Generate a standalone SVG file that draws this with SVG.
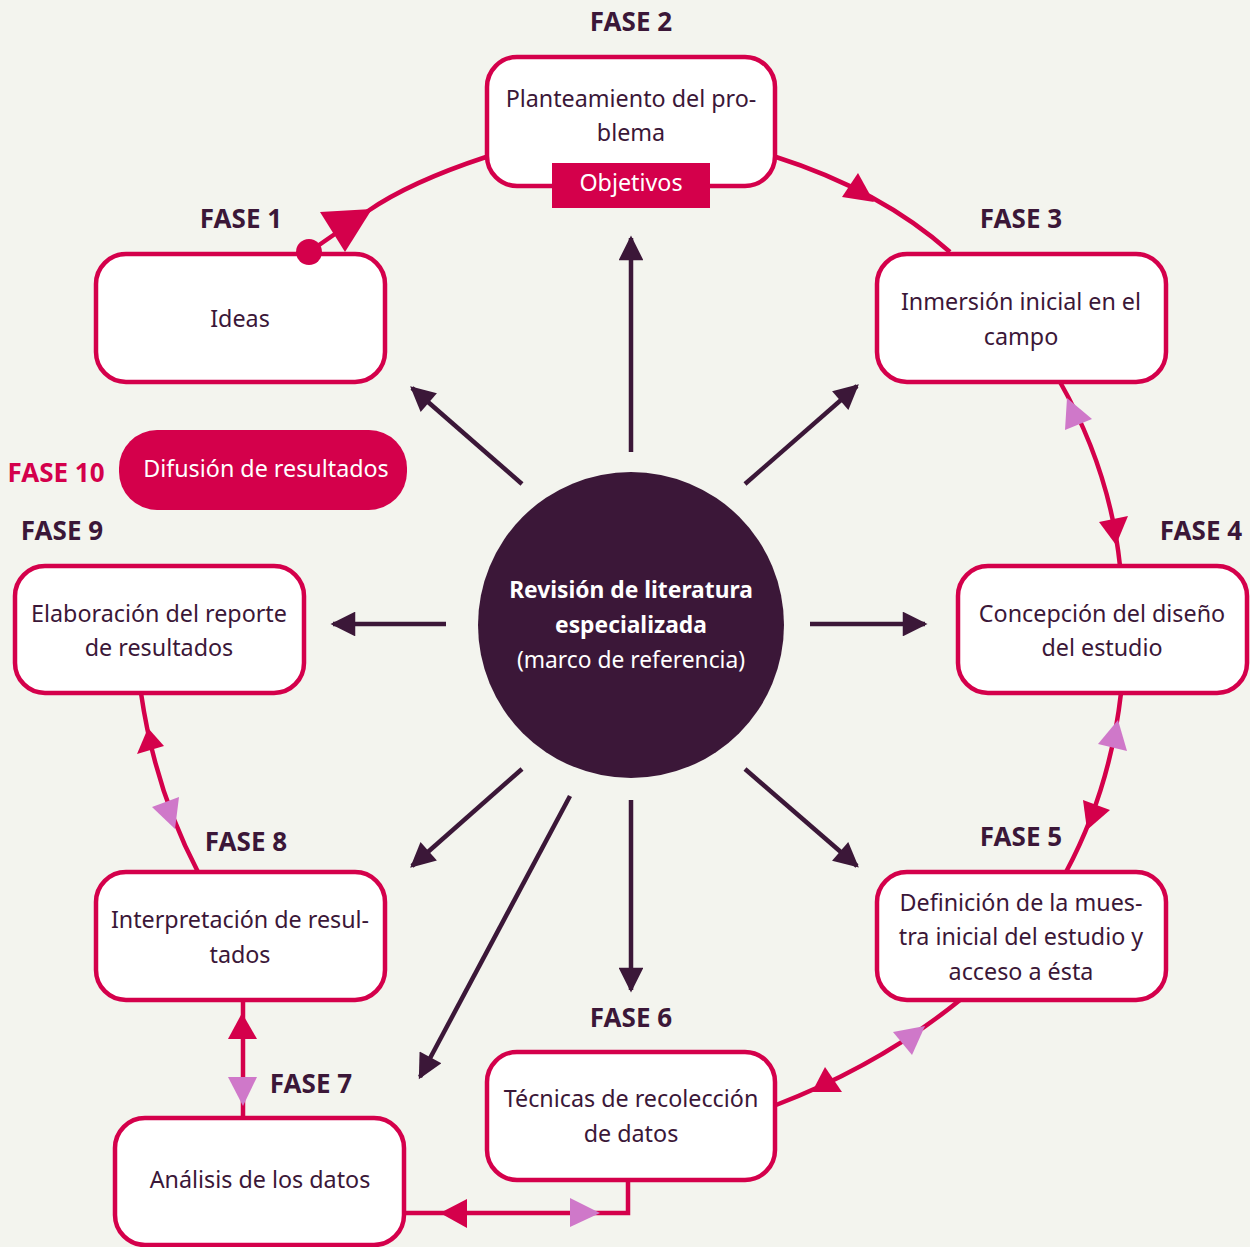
<svg xmlns="http://www.w3.org/2000/svg" width="1250" height="1247" viewBox="0 0 1250 1247">
<defs>
<style>
.bg{fill:#f3f4ee}
.box{fill:#fff;stroke:#d4004b;stroke-width:4.5}
.t{font-family:"Noto Sans","Open Sans",sans-serif;font-size:23.3px;fill:#3b1738;text-anchor:middle}
.c{font-size:22.8px}
.w{fill:#fff}
.lab{font-family:"Noto Sans","Open Sans",sans-serif;font-size:26px;font-weight:bold;fill:#3b1738;text-anchor:middle}
.cyc{fill:none;stroke:#d4004b;stroke-width:4.5}
.rad{fill:none;stroke:#3b1738;stroke-width:4.5}
.ar{fill:#d4004b}
.pk{fill:#cf78c9}
</style>
<marker id="ah" viewBox="0 0 10 10" refX="9" refY="5" markerWidth="6" markerHeight="5.5" markerUnits="strokeWidth" orient="auto">
<path d="M0,0 L10,5 L0,10 z" fill="#3b1738"/>
</marker>
</defs>
<rect class="bg" x="0" y="0" width="1250" height="1247"/>

<g id="center">
<circle cx="631" cy="625" r="153" fill="#3b1738"/>
<text class="t c w" x="631" y="598" font-weight="bold">Revisión de literatura</text>
<text class="t c w" x="631" y="633" font-weight="bold">especializada</text>
<text class="t c w" x="631" y="668">(marco de referencia)</text>
</g>

<g id="fase1">
<text class="lab" x="241" y="228">FASE 1</text>
<rect class="box" x="96" y="254" width="289" height="128" rx="30"/>
<text class="t" x="240" y="327">Ideas</text>
</g>

<g id="fase2">
<text class="lab" x="631" y="31">FASE 2</text>
<rect class="box" x="487" y="57" width="288" height="129" rx="30"/>
<text class="t" x="631" y="107">Planteamiento del pro-</text>
<text class="t" x="631" y="141">blema</text>
<rect x="552" y="163" width="158" height="45" fill="#d4004b"/>
<text class="t w" x="631" y="191">Objetivos</text>
</g>

<g id="fase3">
<text class="lab" x="1021" y="228">FASE 3</text>
<rect class="box" x="877" y="254" width="289" height="128" rx="30"/>
<text class="t" x="1021" y="310">Inmersión inicial en el</text>
<text class="t" x="1021" y="345">campo</text>
</g>

<g id="fase4">
<text class="lab" x="1201" y="540">FASE 4</text>
<rect class="box" x="958" y="566" width="289" height="127" rx="30"/>
<text class="t" x="1102" y="622">Concepción del diseño</text>
<text class="t" x="1102" y="656">del estudio</text>
</g>

<g id="fase5">
<text class="lab" x="1021" y="846">FASE 5</text>
<rect class="box" x="877" y="872" width="289" height="128" rx="30"/>
<text class="t" x="1021" y="911">Definición de la mues-</text>
<text class="t" x="1021" y="945">tra inicial del estudio y</text>
<text class="t" x="1021" y="980">acceso a ésta</text>
</g>

<g id="fase6">
<text class="lab" x="631" y="1027">FASE 6</text>
<rect class="box" x="487" y="1052" width="288" height="128" rx="30"/>
<text class="t" x="631" y="1107">Técnicas de recolección</text>
<text class="t" x="631" y="1142">de datos</text>
</g>

<g id="fase7">
<text class="lab" x="311" y="1093">FASE 7</text>
<rect class="box" x="115" y="1118" width="289" height="127" rx="30"/>
<text class="t" x="260" y="1188">Análisis de los datos</text>
</g>

<g id="fase8">
<text class="lab" x="246" y="851">FASE 8</text>
<rect class="box" x="96" y="872" width="289" height="128" rx="30"/>
<text class="t" x="240" y="928">Interpretación de resul-</text>
<text class="t" x="240" y="963">tados</text>
</g>

<g id="fase9">
<text class="lab" x="62" y="540">FASE 9</text>
<rect class="box" x="15" y="566" width="289" height="127" rx="30"/>
<text class="t" x="159" y="622">Elaboración del reporte</text>
<text class="t" x="159" y="656">de resultados</text>
</g>

<g id="fase10">
<text class="lab" x="56" y="482" style="fill:#d4004b">FASE 10</text>
<rect x="119" y="430" width="288" height="80" rx="38" fill="#d4004b"/>
<text class="t w" x="266" y="477">Difusión de resultados</text>
</g>

<g id="connectors">
<path class="cyc" d="M486,157 Q410,182 368,211 L309,252"/>
<circle cx="309" cy="252" r="13" fill="#d4004b"/>
<polygon class="ar" points="320,212 372,209 345,252"/>
<path class="cyc" d="M776,157 Q880,190 950,252"/>
<polygon class="ar" points="858,173 842,197 874,202"/>
<path class="cyc" d="M1060,382 Q1110,470 1120,566"/>
<polygon class="pk" points="1067,398 1065,430 1092,419"/>
<polygon class="ar" points="1099,522 1128,516 1116,545"/>
<path class="cyc" d="M1121,693 Q1110,790 1066,872"/>
<polygon class="pk" points="1118,720 1098,744 1127,751"/>
<polygon class="ar" points="1083,800 1110,810 1087,830"/>
<path class="cyc" d="M960,1000 Q880,1065 776,1105"/>
<polygon class="pk" points="893,1032 925,1026 912,1055"/>
<polygon class="ar" points="825,1067 812,1092 842,1092"/>
<path class="cyc" d="M628,1180 L628,1213 L404,1213"/>
<polygon class="ar" points="440,1213 467,1199 467,1228"/>
<polygon class="pk" points="570,1198 570,1227 600,1213"/>
<path class="cyc" d="M243,1000 L243,1118"/>
<polygon class="ar" points="242,1013 228,1039 257,1039"/>
<polygon class="pk" points="228,1077 257,1077 243,1106"/>
<path class="cyc" d="M198,872 Q155,790 141,693"/>
<polygon class="ar" points="148,728 137,754 164,746"/>
<polygon class="pk" points="152,807 179,797 175,829"/>
<path class="rad" d="M631,452 L631,238" marker-end="url(#ah)"/>
<path class="rad" d="M522,484 L412,388" marker-end="url(#ah)"/>
<path class="rad" d="M745,484 L857,386" marker-end="url(#ah)"/>
<path class="rad" d="M446,624 L333,624" marker-end="url(#ah)"/>
<path class="rad" d="M810,624 L925,624" marker-end="url(#ah)"/>
<path class="rad" d="M522,769 L412,866" marker-end="url(#ah)"/>
<path class="rad" d="M745,769 L857,866" marker-end="url(#ah)"/>
<path class="rad" d="M631,800 L631,990" marker-end="url(#ah)"/>
<path class="rad" d="M570,796 L420,1077" marker-end="url(#ah)"/>
</g>
</svg>
